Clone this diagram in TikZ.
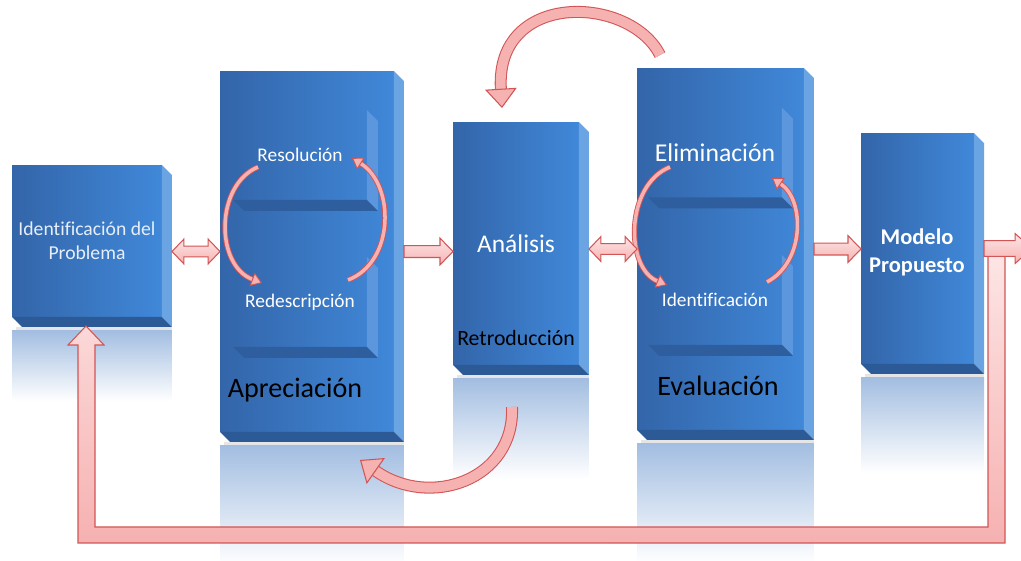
\documentclass[tikz,border=0pt]{standalone}
\usepackage{fontspec}
\setmainfont{Carlito}[Ligatures=NoCommon]
\usepackage{xcolor}
\usetikzlibrary{calc,arrows.meta}
\definecolor{boxDark}{HTML}{3365A9}
\definecolor{boxLight}{HTML}{4088D9}
\definecolor{boxSide}{HTML}{6BA4E3}
\definecolor{boxBottom}{HTML}{2C5A97}
\definecolor{panelDark}{HTML}{2F5E9E}
\definecolor{panelLight}{HTML}{5C96DC}
\definecolor{reflBlue}{HTML}{A3BEE1}
\definecolor{arrowPink}{HTML}{F6B1B1}
\definecolor{arrowLight}{HTML}{FDE6E6}
\definecolor{arrowRed}{HTML}{D25556}
\definecolor{identWhite}{HTML}{E6EEF8}

\tikzset{
 front/.style={rectangle, inner sep=0pt, outer sep=0pt, left color=boxDark, right color=boxLight},
 panel/.style={rectangle, inner sep=0pt, outer sep=0pt, minimum width=2.68cm, minimum height=1.8cm, text=white},
 blk/.style={draw=arrowRed, line width=0.6pt, top color=arrowLight, bottom color=arrowPink, line join=miter},
 bigcurve/.style={draw=arrowRed, line width=0.6pt, double=arrowPink, double distance=5.6pt, -{Triangle[length=11pt, width=18pt, line width=0.6pt, fill=arrowPink]}},
 smallcurve/.style={draw=arrowRed, line width=0.5pt, double=arrowPink, double distance=2pt, -{Triangle[length=6pt, width=8pt, line width=0.5pt, fill=arrowPink]}}
}

% side and bottom face of a block
\newcommand{\faces}[4]{%
 \fill[#2] (#1.north east) -- ++(#4,#4) -- ($(#1.south east)+(#4,#4)$) -- (#1.south east) -- cycle;
 \fill[#3] (#1.south west) -- (#1.south east) -- ($(#1.south east)+(#4,#4)$) -- ($(#1.south west)+(#4,#4)$) -- cycle;}
% reflection under a block
\newcommand{\mirror}[2]{%
 \fill[black!10] ($(#1.south west)+(4,10)$) rectangle ($(#1.south east)+(10,13)$);
 \fill[top color=reflBlue, bottom color=white] ($(#1.south west)+(0,14)$) rectangle ($(#1.south east)+(10,14+#2)$);}
% block arrows
\newcommand{\rarrow}[2]{%
 \draw[blk] let \p1=#1, \p2=#2 in
 (\x1+5.7pt,\y1+3.4pt) -- (\x2-7.4pt,\y1+3.4pt) -- (\x2-7.4pt,\y1+7.6pt) -- (\x2,\y1)
 -- (\x2-7.4pt,\y1-7.6pt) -- (\x2-7.4pt,\y1-3.4pt) -- (\x1+5.7pt,\y1-3.4pt) -- cycle;}
\newcommand{\darrow}[2]{%
 \draw[blk] let \p1=#1, \p2=#2 in
 (\x1+5.7pt,\y1) -- (\x1+12.5pt,\y1+7.1pt) -- (\x1+12.5pt,\y1+3.1pt) -- (\x2-6.8pt,\y1+3.1pt)
 -- (\x2-6.8pt,\y1+7.1pt) -- (\x2,\y1) -- (\x2-6.8pt,\y1-7.1pt) -- (\x2-6.8pt,\y1-3.1pt)
 -- (\x1+12.5pt,\y1-3.1pt) -- (\x1+12.5pt,\y1-7.1pt) -- cycle;}

\begin{document}
\begin{tikzpicture}[x=0.02cm, y=-0.02cm]
 \useasboundingbox (0,0) rectangle (1021,561);
 % Blocks
 \node[front, minimum width=3cm, minimum height=3.04cm, text=identWhite, align=center, font=\fontsize{11.2}{13.6}\selectfont] (ident) at (87,241) {Identificación del\\Problema};
 \node[front, minimum width=3.48cm, minimum height=7.22cm] (aprec) at (307,251.5) {};
 \node[front, minimum width=2.52cm, minimum height=4.86cm, text=white, font=\fontsize{14.5}{17}\selectfont] (anal) at (516,243.5) {Análisis};
 \node[front, minimum width=3.34cm, minimum height=7.24cm] (eval) at (720.5,249) {};
 \node[front, minimum width=2.26cm, minimum height=4.62cm] (modelo) at (917.5,248.5) {};
 \faces{ident}{boxSide}{boxBottom}{10}
 \faces{aprec}{boxSide}{boxBottom}{10}
 \faces{anal}{boxSide}{boxBottom}{10}
 \faces{eval}{boxSide}{boxBottom}{10}
 \faces{modelo}{boxSide}{boxBottom}{10}
 \node[text=white, align=center, font=\fontsize{12.8}{15.9}\selectfont\bfseries] (modeloTxt) at (917,252) {Modelo\\Propuesto};
 % Panels
 \node[panel, font=\fontsize{11}{13}\selectfont] (resol) at (300,155) {Resolución};
 \node[panel, font=\fontsize{11}{13}\selectfont] (redes) at (300,302) {Redescripción};
 \node[panel, font=\fontsize{14.6}{17}\selectfont] (elim) at (715,152.5) {Eliminación};
 \node[panel, font=\fontsize{11}{13}\selectfont] (identif) at (715,300) {Identificación};
 \faces{resol}{panelLight}{panelDark}{11}
 \faces{redes}{panelLight}{panelDark}{11}
 \faces{elim}{panelLight}{panelDark}{11}
 \faces{identif}{panelLight}{panelDark}{11}
 % Captions
 \node[font=\fontsize{16}{19}\selectfont] (apreTxt) at (295,390) {Apreciación};
 \node[font=\fontsize{12.4}{15}\selectfont] (retroTxt) at (516,338) {Retroducción};
 \node[font=\fontsize{16}{19}\selectfont] (evalTxt) at (718,386) {Evaluación};
 % Reflections
 \mirror{ident}{70}
 \mirror{aprec}{120}
 \mirror{anal}{100}
 \mirror{eval}{120}
 \mirror{modelo}{95}
 % Inner loops
 \draw[smallcurve] ([shift={(-42,12)}]resol.center) .. controls +(-43,18) and +(-47,-18) .. ([shift={(-38,-19)}]redes.center);
 \draw[smallcurve] ([shift={(48,-22)}]redes.center) .. controls +(47,-18) and +(43,27) .. ([shift={(52,3)}]resol.center);
 \draw[smallcurve] ([shift={(-45,14.5)}]elim.center) .. controls +(-45,18) and +(-42,-17) .. ([shift={(-48,-15)}]identif.center);
 \draw[smallcurve] ([shift={(52,-18)}]identif.center) .. controls +(38,-20) and +(33,22) .. ([shift={(57,25.5)}]elim.center);
 % Back loops
 \draw[bigcurve] ([shift={(23,-13)}]eval.north west) .. controls +(-30,-60) and +(-7,-118) .. ([shift={(-14,-14)}]anal.north);
 \draw[bigcurve] ([shift={(-4,42)}]anal.south) .. controls +(3,73) and +(70,49) .. ([shift={(-34,28)}]aprec.south east);
 % Flow
 \darrow{(ident.east |- aprec.west)}{(aprec.west)}
 \rarrow{(aprec.east)}{(anal.west |- aprec.east)}
 \darrow{(anal.east |- eval.west)}{(eval.west)}
 \rarrow{(eval.east)}{(modelo.west |- eval.east)}
 % Feedback
 \coordinate (outEnd) at (1032,248.5);
 \draw[blk] ($(modelo.east)+(31,0)$) -- ($(modelo.east)+(31,294.5)$) -- ($(ident.south)+(-9,226)$) -- ($(ident.south)+(-9,28)$) -- ($(ident.south)+(-19,28)$) -- ($(ident.south)+(-1,9)$) -- ($(ident.south)+(17,28)$) -- ($(ident.south)+(8,28)$) -- ($(ident.south)+(8,210)$) -- ($(modelo.east)+(14,278.5)$) -- ($(modelo.east)+(14,0)$) -- cycle;
 \draw[blk] let \p1=(modelo.east), \p2=(outEnd) in
 (\x1+5.7pt,\y1+4.5pt) -- (\x2-9.6pt,\y1+4.5pt) -- (\x2-9.6pt,\y1+8.5pt) -- (\x2,\y1)
 -- (\x2-9.6pt,\y1-8.5pt) -- (\x2-9.6pt,\y1-4.5pt) -- (\x1+5.7pt,\y1-4.5pt) -- cycle;
\end{tikzpicture}
\end{document}
